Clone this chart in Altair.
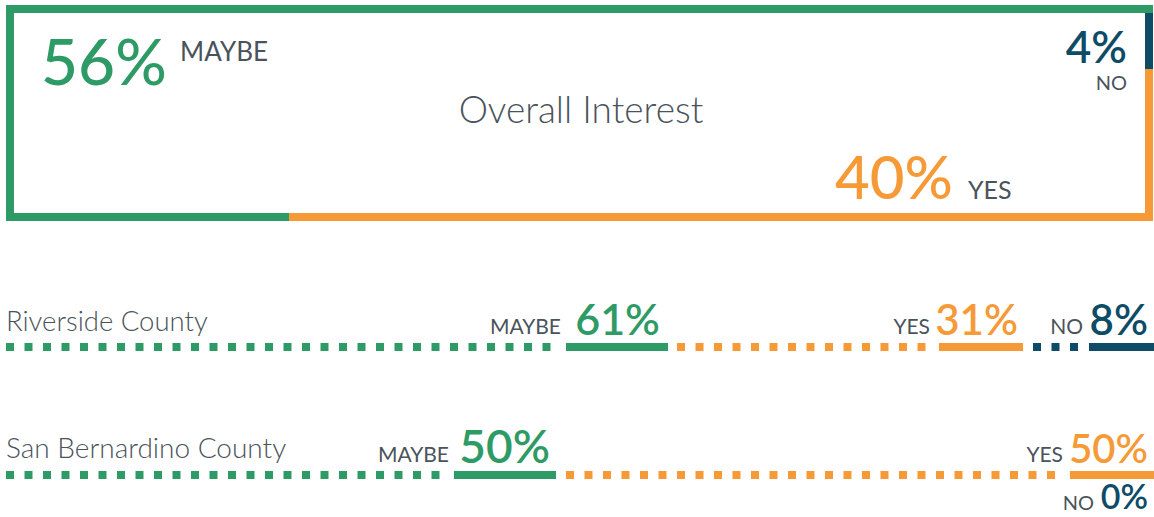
import altair as alt
import pandas as pd

# ---------------- data ----------------
answers = ["MAYBE", "YES", "NO"]
overall_pct = [56, 40, 4]
regions = ["Riverside County", "San Bernardino County"]
riverside_pct = [61, 31, 8]
sanbern_pct = [50, 50, 0]

# segment extents along each county track (percent of track width) as drawn
riverside_start = [0.0, 58.45, 89.46]
riverside_solid = [48.78, 81.27, 94.34]
riverside_end = [57.67, 88.59, 100.0]
sanbern_start = [0.0, 48.78, 100.0]
sanbern_solid = [39.02, 92.68, 100.0]
sanbern_end = [47.91, 100.0, 100.0]

# ---------------- styles / layout ----------------
GREEN, ORANGE, NAVY, GRAY = "#2e9b66", "#f69a37", "#0e4b66", "#4a535b"
ans_color = dict(zip(answers, [GREEN, ORANGE, NAVY]))
FONT = "Lato"
W, H = 1154, 517
X0, X1 = 6, 1154


def px(v):
    return (v - X0) / (X1 - X0) * 100.0


GAP = px(X0 + 10)

# box outline (overall interest), break points
box_h = pd.DataFrame([
    dict(x=px(6), x2=px(1153), y=9, c=GREEN),
    dict(x=px(6), x2=px(289), y=217, c=GREEN),
    dict(x=px(289), x2=px(1153), y=217, c=ORANGE),
])
box_v = pd.DataFrame([
    dict(x=px(10), y=5, y2=221, c=GREEN),
    dict(x=px(1149), y=13, y2=69, c=NAVY),
    dict(x=px(1149), y=69, y2=221, c=ORANGE),
])

# county tracks
row_y = [347, 475]
solid_rows, dot_rows = [], []
for ry, st, so, en in [(row_y[0], riverside_start, riverside_solid, riverside_end),
                       (row_y[1], sanbern_start, sanbern_solid, sanbern_end)]:
    for a, s, m, e in zip(answers, st, so, en):
        if e - s <= 0:
            continue
        solid_rows.append(dict(x=m, x2=e, y=ry, c=ans_color[a]))
        if m - GAP > s:
            dot_rows.append(dict(x=s, x2=m - GAP, y=ry, c=ans_color[a]))
solid_df = pd.DataFrame(solid_rows)
dot_df = pd.DataFrame(dot_rows)

# text labels
T = []


def lab(text, x, y, size, weight, color, align):
    T.append(dict(t=text, x=px(x), y=y, s=size, w=weight, c=color, a=align))


lab(f"{overall_pct[0]}%", 41, 85, 64, 500, GREEN, "left")
lab(answers[0], 180, 61, 26, 400, GRAY, "left")
lab("Overall Interest", 581, 123, 37, 300, GRAY, "center")
lab(f"{overall_pct[2]}%", 1127, 63, 44, 600, NAVY, "right")
lab(answers[2], 1127, 90, 20, 400, GRAY, "right")
lab(f"{overall_pct[1]}%", 835, 199, 60, 500, ORANGE, "left")
lab(answers[1], 968, 199, 25, 400, GRAY, "left")

lab(regions[0], 6, 331, 27.5, 300, GRAY, "left")
lab(answers[0], 561, 334, 21, 400, GRAY, "right")
lab(f"{riverside_pct[0]}%", 660, 335, 43, 600, GREEN, "right")
lab(answers[1], 930, 334, 21, 400, GRAY, "right")
lab(f"{riverside_pct[1]}%", 1018, 335, 42, 600, ORANGE, "right")
lab(answers[2], 1083, 334, 21, 400, GRAY, "right")
lab(f"{riverside_pct[2]}%", 1148, 335, 42, 600, NAVY, "right")

lab(regions[1], 6, 458, 28, 300, GRAY, "left")
lab(answers[0], 449, 462, 21, 400, GRAY, "right")
lab(f"{sanbern_pct[0]}%", 550, 463, 46, 600, GREEN, "right")
lab(answers[1], 1063, 462, 21, 400, GRAY, "right")
lab(f"{sanbern_pct[1]}%", 1148, 463, 40, 600, ORANGE, "right")
lab(answers[2], 1094, 510, 20, 400, GRAY, "right")
lab(f"{sanbern_pct[2]}%", 1148, 509, 34, 600, NAVY, "right")
text_df = pd.DataFrame(T)

# ---------------- chart ----------------
xs = alt.Scale(domain=[0, 100], range=[X0, X1])
ys = alt.Scale(domain=[0, H], range=[0, H])
X = lambda f="x": alt.X(f"{f}:Q", scale=xs, axis=None)
Y = lambda f="y": alt.Y(f"{f}:Q", scale=ys, axis=None)
C = alt.Color("c:N", scale=None)

layers = [
    alt.Chart(box_h).mark_rule(strokeWidth=8).encode(x=X(), x2="x2:Q", y=Y(), color=C),
    alt.Chart(box_v).mark_rule(strokeWidth=8).encode(x=X(), y=Y(), y2="y2:Q", color=C),
    alt.Chart(dot_df).mark_rule(strokeWidth=8, strokeDash=[8, 10.5]).encode(
        x=X(), x2="x2:Q", y=Y(), color=C),
    alt.Chart(solid_df).mark_rule(strokeWidth=8).encode(x=X(), x2="x2:Q", y=Y(), color=C),
]
for (a, w), _ in text_df.groupby(["a", "w"]):
    layers.append(
        alt.Chart(text_df).transform_filter(
            (alt.datum.a == a) & (alt.datum.w == int(w))
        ).mark_text(align=a, baseline="alphabetic", font=FONT, fontWeight=int(w)).encode(
            x=X(), y=Y(), text="t:N",
            size=alt.Size("s:Q", scale=None), color=C)
    )

chart = alt.layer(*layers).properties(
    width=W, height=H, autosize=alt.AutoSizeParams(type="none"), padding=0
).configure_view(stroke=None)

chart.save("out.html", embed_options={"renderer": "svg", "actions": False})
